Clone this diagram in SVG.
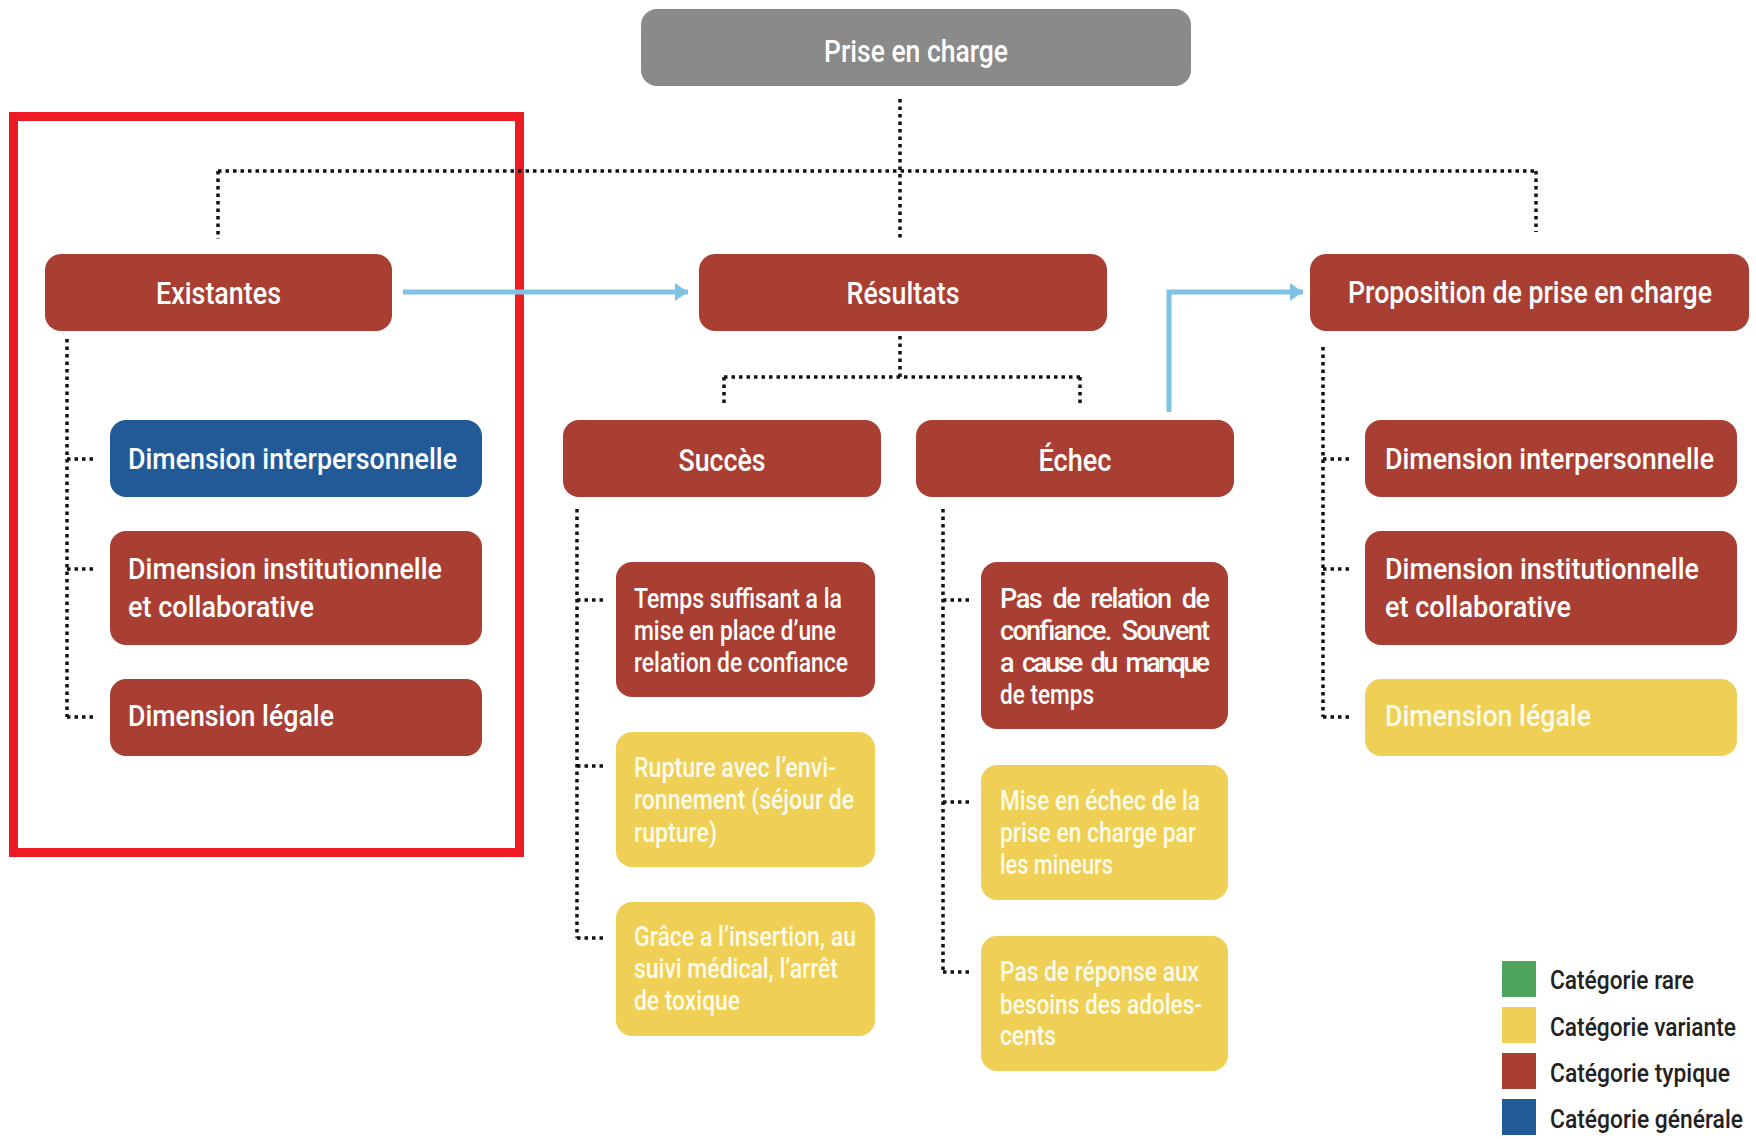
<svg xmlns="http://www.w3.org/2000/svg" width="1756" height="1139" viewBox="0 0 1756 1139">
<defs>
<style>
.t{font-family:Roboto,"Liberation Sans",sans-serif;font-weight:500;fill:#ffffff}
.h{font-size:31px}
.d{font-size:30px}
.s{font-size:27px}
.y{fill:#fffbea}
.lg{font-family:Roboto,"Liberation Sans",sans-serif;font-weight:500;font-size:25px;fill:#222222}
.red{fill:#a93e33}
.blu{fill:#225a97}
.yel{fill:#efcf55}
.gry{fill:#8a8a8a}
.dot{fill:none;stroke:#111111;stroke-width:3.5;stroke-dasharray:3.5 4}
.arr{fill:none;stroke:#7ec3e6;stroke-width:5}
</style>
<marker id="ah" markerWidth="14" markerHeight="20" refX="13" refY="10" orient="auto" markerUnits="userSpaceOnUse">
<path d="M0,1 L13,10 L0,19 Z" fill="#7ec3e6"/>
</marker>
</defs>
<rect width="1756" height="1139" fill="#ffffff"/>

<rect id="highlight" x="13.5" y="116.5" width="506" height="736" fill="none" stroke="#ed1c24" stroke-width="9"/>

<g id="connectors">
<path class="dot" d="M900,99 V239"/>
<path class="dot" d="M218,171 H1536"/>
<path class="dot" d="M218,171 V239"/>
<path class="dot" d="M1536,171 V232"/>
<path class="dot" d="M900,336 V377"/>
<path class="dot" d="M724,377 H1080"/>
<path class="dot" d="M724,377 V407"/>
<path class="dot" d="M1080,377 V407"/>
<path class="dot" d="M67,339 V717"/>
<path class="dot" d="M67,459 H96 M67,569 H96 M67,717 H96"/>
<path class="dot" d="M577,509 V938"/>
<path class="dot" d="M577,600 H606 M577,766 H606 M577,938 H606"/>
<path class="dot" d="M943,509 V972"/>
<path class="dot" d="M943,600 H972 M943,802 H972 M943,972 H972"/>
<path class="dot" d="M1323,347 V717"/>
<path class="dot" d="M1323,459 H1352 M1323,569 H1352 M1323,717 H1352"/>
<path class="arr" d="M403,292 H688" marker-end="url(#ah)"/>
<path class="arr" d="M1169,412 V292 H1303" marker-end="url(#ah)"/>
</g>

<g id="prise">
<rect class="gry" x="641" y="9" width="550" height="77" rx="16"/>
<text class="t h" x="824" y="62" textLength="184" lengthAdjust="spacingAndGlyphs">Prise en charge</text>
</g>

<g id="existantes">
<rect class="red" x="45" y="254" width="347" height="77" rx="16"/>
<text class="t h" x="156" y="304" textLength="125" lengthAdjust="spacingAndGlyphs">Existantes</text>
</g>

<g id="resultats">
<rect class="red" x="699" y="254" width="408" height="77" rx="16"/>
<text class="t h" x="846.5" y="304" textLength="113" lengthAdjust="spacingAndGlyphs">Résultats</text>
</g>

<g id="proposition">
<rect class="red" x="1310" y="254" width="439" height="77" rx="16"/>
<text class="t h" transform="translate(1348,303) scale(0.78,1)" x="0" y="0" textLength="466.7" lengthAdjust="spacingAndGlyphs">Proposition de prise en charge</text>
</g>

<g id="succes">
<rect class="red" x="563" y="420" width="318" height="77" rx="16"/>
<text class="t h" x="678.5" y="471" textLength="87" lengthAdjust="spacingAndGlyphs">Succès</text>
</g>

<g id="echec">
<rect class="red" x="916" y="420" width="318" height="77" rx="16"/>
<text class="t h" x="1038.5" y="471" textLength="73" lengthAdjust="spacingAndGlyphs">Échec</text>
</g>

<g id="ex-interpersonnelle">
<rect class="blu" x="110" y="420" width="372" height="77" rx="16"/>
<text class="t d" x="128" y="469" textLength="329" lengthAdjust="spacingAndGlyphs">Dimension interpersonnelle</text>
</g>
<g id="ex-institutionnelle">
<rect class="red" x="110" y="531" width="372" height="114" rx="16"/>
<text class="t d" x="128" y="579" textLength="314" lengthAdjust="spacingAndGlyphs">Dimension institutionnelle</text>
<text class="t d" x="128" y="617" textLength="186" lengthAdjust="spacingAndGlyphs">et collaborative</text>
</g>
<g id="ex-legale">
<rect class="red" x="110" y="679" width="372" height="77" rx="16"/>
<text class="t d" x="128" y="726" textLength="206" lengthAdjust="spacingAndGlyphs">Dimension légale</text>
</g>

<g id="pr-interpersonnelle">
<rect class="red" x="1365" y="420" width="372" height="77" rx="16"/>
<text class="t d" x="1385" y="469" textLength="329" lengthAdjust="spacingAndGlyphs">Dimension interpersonnelle</text>
</g>
<g id="pr-institutionnelle">
<rect class="red" x="1365" y="531" width="372" height="114" rx="16"/>
<text class="t d" x="1385" y="579" textLength="314" lengthAdjust="spacingAndGlyphs">Dimension institutionnelle</text>
<text class="t d" x="1385" y="617" textLength="186" lengthAdjust="spacingAndGlyphs">et collaborative</text>
</g>
<g id="pr-legale">
<rect class="yel" x="1365" y="679" width="372" height="77" rx="16"/>
<text class="t d y" x="1385" y="726" textLength="206" lengthAdjust="spacingAndGlyphs">Dimension légale</text>
</g>

<g id="su-temps">
<rect class="red" x="616" y="562" width="259" height="135" rx="16"/>
<text class="t s" x="634" y="608" textLength="208" lengthAdjust="spacingAndGlyphs">Temps suffisant a la</text>
<text class="t s" x="634" y="640" textLength="202" lengthAdjust="spacingAndGlyphs">mise en place d’une</text>
<text class="t s" x="634" y="672" textLength="214" lengthAdjust="spacingAndGlyphs">relation de confiance</text>
</g>
<g id="su-rupture">
<rect class="yel" x="616" y="732" width="259" height="135" rx="16"/>
<text class="t s y" x="634" y="777" textLength="202" lengthAdjust="spacingAndGlyphs">Rupture avec l’envi-</text>
<text class="t s y" x="634" y="809" textLength="220" lengthAdjust="spacingAndGlyphs">ronnement (séjour de</text>
<text class="t s y" x="634" y="842" textLength="83" lengthAdjust="spacingAndGlyphs">rupture)</text>
</g>
<g id="su-grace">
<rect class="yel" x="616" y="902" width="259" height="134" rx="16"/>
<text class="t s y" x="634" y="946" textLength="222" lengthAdjust="spacingAndGlyphs">Grâce a l’insertion, au</text>
<text class="t s y" x="634" y="978" textLength="204" lengthAdjust="spacingAndGlyphs">suivi médical, l’arrêt</text>
<text class="t s y" x="634" y="1010" textLength="106" lengthAdjust="spacingAndGlyphs">de toxique</text>
</g>

<g id="ec-relation">
<rect class="red" x="981" y="562" width="247" height="167" rx="16"/>
<text class="t s" x="1000" y="608" textLength="210" lengthAdjust="spacing" style="word-spacing:6px">Pas de relation de</text>
<text class="t s" x="1000" y="640" textLength="210" lengthAdjust="spacing" style="word-spacing:6px">confiance. Souvent</text>
<text class="t s" x="1000" y="672" textLength="210" lengthAdjust="spacing" style="word-spacing:6px">a cause du manque</text>
<text class="t s" x="1000" y="704" textLength="94" lengthAdjust="spacingAndGlyphs">de temps</text>
</g>
<g id="ec-mise">
<rect class="yel" x="981" y="765" width="247" height="135" rx="16"/>
<text class="t s y" x="1000" y="810" textLength="200" lengthAdjust="spacingAndGlyphs">Mise en échec de la</text>
<text class="t s y" x="1000" y="842" textLength="196" lengthAdjust="spacingAndGlyphs">prise en charge par</text>
<text class="t s y" x="1000" y="874" textLength="113" lengthAdjust="spacingAndGlyphs">les mineurs</text>
</g>
<g id="ec-reponse">
<rect class="yel" x="981" y="936" width="247" height="135" rx="16"/>
<text class="t s y" x="1000" y="981" textLength="199" lengthAdjust="spacingAndGlyphs">Pas de réponse aux</text>
<text class="t s y" x="1000" y="1014" textLength="202" lengthAdjust="spacingAndGlyphs">besoins des adoles-</text>
<text class="t s y" x="1000" y="1045" textLength="56" lengthAdjust="spacingAndGlyphs">cents</text>
</g>

<g id="legend">
<rect x="1502" y="961" width="34" height="36" fill="#4ea45a"/>
<text class="lg" transform="translate(1550,989) scale(0.8,1)" x="0" y="0" textLength="180" lengthAdjust="spacingAndGlyphs">Catégorie rare</text>
<rect x="1502" y="1007" width="34" height="36" fill="#efcf55"/>
<text class="lg" transform="translate(1550,1036) scale(0.8,1)" x="0" y="0" textLength="232.5" lengthAdjust="spacingAndGlyphs">Catégorie variante</text>
<rect x="1502" y="1053" width="34" height="36" fill="#a93e33"/>
<text class="lg" transform="translate(1550,1082) scale(0.8,1)" x="0" y="0" textLength="225" lengthAdjust="spacingAndGlyphs">Catégorie typique</text>
<rect x="1502" y="1099" width="34" height="36" fill="#225a97"/>
<text class="lg" transform="translate(1550,1128) scale(0.8,1)" x="0" y="0" textLength="241.25" lengthAdjust="spacingAndGlyphs">Catégorie générale</text>
</g>
</svg>
